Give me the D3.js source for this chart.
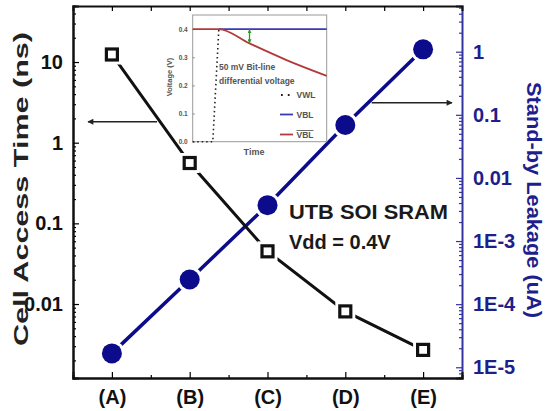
<!DOCTYPE html>
<html>
<head>
<meta charset="utf-8">
<title>UTB SOI SRAM</title>
<style>
  body { margin: 0; background: #fff; }
  text { font-family: "Liberation Sans", Arial, sans-serif; font-weight: bold; }
</style>
<script src="https://d3js.org/d3.v7.min.js"></script>
</head>
<body>
<svg width="552" height="411"></svg>
<script>
// main chart data
var categories = ["(A)", "(B)", "(C)", "(D)", "(E)"];
var accessTime = [12.4, 0.56, 0.045, 0.0081, 0.0027];      // ns, left axis
var leakage = [1.66e-5, 2.46e-4, 0.0037, 0.069, 1.09];     // uA, right axis
var leftTicks = [10, 1, 0.1, 0.01];
var leftLabels = ["10", "1", "0.1", "0.01"];
var rightTicks = [1, 0.1, 0.01, 1e-3, 1e-4, 1e-5];
var rightLabels = ["1", "0.1", "0.01", "1E-3", "1E-4", "1E-5"];

// inset data (voltage vs time)
var vwlTime = [0, 1.5, 1.95], vwlVolt = [0, 0, 0.4];
var vblTime = [1.95, 10], vblVolt = [0.4, 0.4];
var vblBarTime = [0, 1.95, 4.24, 7, 10], vblBarVolt = [0.4, 0.4, 0.349, 0.29, 0.234];
var insetTicks = [0, 0.1, 0.2, 0.3, 0.4];

var svg = d3.select("svg");
var pLeft = 73, pRight = 462, pTop = 6, pBottom = 378;
var navy = "#0b0b8c", axisBlue = "#3434a0";

var x = d3.scaleLinear().domain([-0.5, 4.5]).range([pLeft, pRight]);
var yL = d3.scaleLog().domain([0.00121, 49.5]).range([pBottom, pTop]);
var yR = d3.scaleLog().domain([6.76e-6, 5.3]).range([pBottom, pTop]);

function minors(scale) {
  return scale.ticks().filter(function(d) {
    var m = d / Math.pow(10, Math.floor(Math.log10(d) + 1e-9));
    return Math.abs(m - 1) > 1e-6;
  });
}

// left axis
svg.append("g").attr("transform", "translate(" + pLeft + ",0)")
  .call(d3.axisLeft(yL).tickValues(minors(yL)).tickSize(-3).tickFormat(""));
svg.append("g").attr("transform", "translate(" + pLeft + ",0)")
  .call(d3.axisLeft(yL).tickValues(leftTicks).tickSize(-6).tickPadding(10)
    .tickFormat(function(d, i) { return leftLabels[i]; }))
  .call(function(g) { g.selectAll("text").attr("font-size", 20).attr("fill", "#111"); });

// right axis (blue)
svg.append("g").attr("transform", "translate(" + pRight + ",0)")
  .call(d3.axisRight(yR).tickValues(minors(yR)).tickSize(-3).tickFormat(""))
  .call(function(g) { g.selectAll("line,path").attr("stroke", axisBlue); });
svg.append("g").attr("transform", "translate(" + pRight + ",0)")
  .call(d3.axisRight(yR).tickValues(rightTicks).tickSize(-6).tickPadding(11)
    .tickFormat(function(d, i) { return rightLabels[i]; }))
  .call(function(g) {
    g.selectAll("line").attr("stroke", axisBlue);
    g.select("path").attr("stroke", axisBlue).attr("stroke-width", 2);
    g.selectAll("text").attr("font-size", 20).attr("fill", "#1e1e8c");
  });

// bottom and top axes
var idx = categories.map(function(d, i) { return i; });
var mids = [0.5, 1.5, 2.5, 3.5];
svg.append("g").attr("transform", "translate(0," + pBottom + ")")
  .call(d3.axisBottom(x).tickValues(mids).tickSize(-3).tickFormat(""));
svg.append("g").attr("transform", "translate(0," + pBottom + ")")
  .call(d3.axisBottom(x).tickValues(idx).tickSize(-6).tickPadding(12)
    .tickFormat(function(i) { return categories[i]; }))
  .call(function(g) { g.selectAll("text").attr("font-size", 20).attr("fill", "#111"); });
svg.append("g").attr("transform", "translate(0," + pTop + ")")
  .call(d3.axisTop(x).tickValues(idx.concat(mids)).tickSize(-5).tickFormat(""));

svg.selectAll(".domain").filter(function() { return this.getAttribute("stroke") !== axisBlue; })
  .attr("stroke", "#111").attr("stroke-width", 2);
svg.selectAll(".tick line").attr("stroke-width", 1.2);

// axis titles
svg.append("text")
  .attr("transform", "translate(28,189) rotate(-90)")
  .attr("text-anchor", "middle").attr("font-size", 21).attr("fill", "#222")
  .attr("textLength", 314).attr("lengthAdjust", "spacingAndGlyphs")
  .text("Cell Access Time (ns)");
svg.append("text")
  .attr("transform", "translate(527,200) rotate(90)")
  .attr("text-anchor", "middle").attr("font-size", 20).attr("fill", "#1e1e8c")
  .attr("textLength", 236).attr("lengthAdjust", "spacingAndGlyphs")
  .text("Stand-by Leakage (uA)");

// series lines
var lineL = d3.line().x(function(d, i) { return x(i); }).y(function(d) { return yL(d); });
var lineR = d3.line().x(function(d, i) { return x(i); }).y(function(d) { return yR(d); });
svg.append("path").datum(leakage).attr("d", lineR)
  .attr("fill", "none").attr("stroke", navy).attr("stroke-width", 3.5);
svg.append("path").datum(accessTime).attr("d", lineL)
  .attr("fill", "none").attr("stroke", "#111").attr("stroke-width", 3);

// markers with white gap around them
svg.selectAll(".halo-c").data(leakage).enter().append("circle")
  .attr("cx", function(d, i) { return x(i); }).attr("cy", function(d) { return yR(d); })
  .attr("r", 13).attr("fill", "#fff");
svg.selectAll(".dot").data(leakage).enter().append("circle")
  .attr("cx", function(d, i) { return x(i); }).attr("cy", function(d) { return yR(d); })
  .attr("r", 10).attr("fill", navy);
svg.selectAll(".halo-s").data(accessTime).enter().append("rect")
  .attr("x", function(d, i) { return x(i) - 10; }).attr("y", function(d) { return yL(d) - 10; })
  .attr("width", 20).attr("height", 20).attr("fill", "#fff");
svg.selectAll(".sq").data(accessTime).enter().append("rect")
  .attr("x", function(d, i) { return x(i) - 5.5; }).attr("y", function(d) { return yL(d) - 5.5; })
  .attr("width", 11).attr("height", 11)
  .attr("fill", "#fff").attr("stroke", "#111").attr("stroke-width", 3.2);

// arrows pointing to the axes
var defs = svg.append("defs");
defs.append("marker").attr("id", "ah").attr("viewBox", "0 0 10 10")
  .attr("refX", 9).attr("refY", 5).attr("markerWidth", 9).attr("markerHeight", 6)
  .attr("orient", "auto-start-reverse").attr("markerUnits", "userSpaceOnUse")
  .append("path").attr("d", "M0,0L10,5L0,10z").attr("fill", "#222");
svg.append("line").attr("x1", 157).attr("y1", 121.7).attr("x2", 88).attr("y2", 121.7)
  .attr("stroke", "#222").attr("stroke-width", 1.6).attr("marker-end", "url(#ah)");
svg.append("line").attr("x1", 371.7).attr("y1", 102.7).attr("x2", 452).attr("y2", 102.7)
  .attr("stroke", "#222").attr("stroke-width", 1.6).attr("marker-end", "url(#ah)");

// annotation
svg.append("text").attr("x", 289).attr("y", 218.5).attr("font-size", 20).attr("fill", "#1a1a1a")
  .attr("textLength", 159).attr("lengthAdjust", "spacingAndGlyphs").text("UTB SOI SRAM");
svg.append("text").attr("x", 289).attr("y", 248.5).attr("font-size", 20).attr("fill", "#1a1a1a")
  .text("Vdd = 0.4V");

// inset
var ix = d3.scaleLinear().domain([0, 10]).range([192.7, 326.7]);
var iy = d3.scaleLinear().domain([0, 0.45]).range([141.7, 15]);
var inset = svg.append("g");
inset.append("rect").attr("x", 192.7).attr("y", 15).attr("width", 134).attr("height", 126.7)
  .attr("fill", "#fff").attr("stroke", "#999").attr("stroke-width", 1);
inset.append("g").attr("transform", "translate(192.7,0)")
  .call(d3.axisLeft(iy).tickValues(insetTicks).tickSize(-2).tickPadding(5).tickFormat(d3.format(".1f")))
  .call(function(g) {
    g.select(".domain").remove();
    g.selectAll("line").attr("stroke", "#888");
    g.selectAll("text").attr("font-size", 6.5).attr("fill", "#555");
  });
inset.append("text").attr("transform", "translate(172,77) rotate(-90)")
  .attr("text-anchor", "middle").attr("font-size", 7.5).attr("fill", "#555").text("Voltage (V)");
inset.append("text").attr("x", 254).attr("y", 155).attr("text-anchor", "middle")
  .attr("font-size", 9).attr("fill", "#555").text("Time");

var iline = d3.line().x(function(d) { return ix(d[0]); }).y(function(d) { return iy(d[1]); });
inset.append("path").datum(d3.zip(vblTime, vblVolt)).attr("d", iline)
  .attr("fill", "none").attr("stroke", "#3a3ab4").attr("stroke-width", 1.8);
inset.append("path").datum(d3.zip(vblBarTime, vblBarVolt)).attr("d", iline.curve(d3.curveMonotoneX))
  .attr("fill", "none").attr("stroke", "#b23a3a").attr("stroke-width", 1.8);
inset.append("path").datum(d3.zip(vwlTime, vwlVolt)).attr("d", iline.curve(d3.curveLinear))
  .attr("fill", "none").attr("stroke", "#222").attr("stroke-width", 1.6)
  .attr("stroke-dasharray", "1.5,3");

// green differential arrow
defs.append("marker").attr("id", "gh").attr("viewBox", "0 0 10 10")
  .attr("refX", 9).attr("refY", 5).attr("markerWidth", 4).attr("markerHeight", 4)
  .attr("orient", "auto-start-reverse").attr("markerUnits", "userSpaceOnUse")
  .append("path").attr("d", "M0,0L10,5L0,10z").attr("fill", "#2a9a2a");
inset.append("line").attr("x1", ix(4.24)).attr("x2", ix(4.24))
  .attr("y1", iy(0.398)).attr("y2", iy(0.351))
  .attr("stroke", "#2a9a2a").attr("stroke-width", 1.3)
  .attr("marker-start", "url(#gh)").attr("marker-end", "url(#gh)");

inset.append("text").attr("x", 219).attr("y", 70).attr("font-size", 8.5).attr("fill", "#555")
  .text("50 mV Bit-line");
inset.append("text").attr("x", 219).attr("y", 84).attr("font-size", 8.5).attr("fill", "#555")
  .text("differential voltage");

// inset legend
inset.append("line").attr("x1", 281).attr("x2", 292).attr("y1", 95).attr("y2", 95)
  .attr("stroke", "#222").attr("stroke-width", 1.8).attr("stroke-dasharray", "1.8,5");
inset.append("line").attr("x1", 280).attr("x2", 293).attr("y1", 114.5).attr("y2", 114.5)
  .attr("stroke", "#3a3ab4").attr("stroke-width", 1.8);
inset.append("line").attr("x1", 280).attr("x2", 293).attr("y1", 134.5).attr("y2", 134.5)
  .attr("stroke", "#b23a3a").attr("stroke-width", 1.8);
inset.append("text").attr("x", 296.5).attr("y", 98).attr("font-size", 8.5).attr("fill", "#555").text("VWL");
inset.append("text").attr("x", 296.5).attr("y", 118).attr("font-size", 8.5).attr("fill", "#555").text("VBL");
inset.append("text").attr("x", 296.5).attr("y", 138).attr("font-size", 8.5).attr("fill", "#555")
  .attr("text-decoration", "overline").text("VBL");
</script>
</body>
</html>
